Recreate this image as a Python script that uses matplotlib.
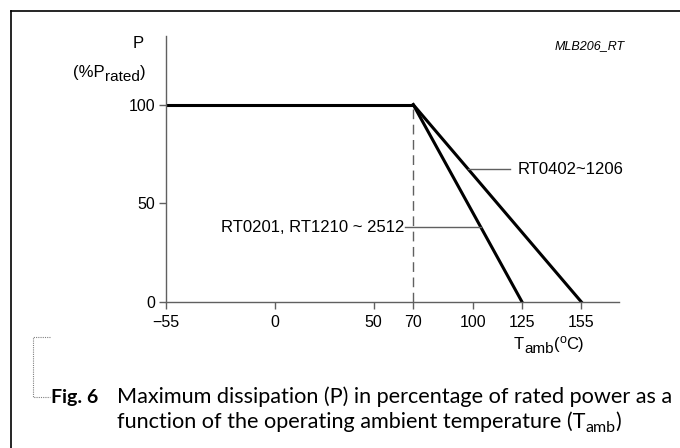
import numpy as np
import matplotlib
matplotlib.use('Agg')
import matplotlib.pyplot as plt
from matplotlib.lines import Line2D

# Datos de la curva de derating
temp_plano = [-55, 70]
pot_plano = [100, 100]
temp_a = [70, 125]     # RT0201, RT1210 ~ 2512
pot_a = [100, 0]
temp_b = [70, 155]     # RT0402~1206
pot_b = [100, 0]
xticks = [-55, 0, 50, 70, 100, 125, 155]
yticks = [0, 50, 100]
label_a = 'RT0201, RT1210 ~ 2512'
label_b = 'RT0402~1206'

plt.rcParams['font.family'] = ['Liberation Sans', 'DejaVu Sans']

W, H = 680, 448
fig = plt.figure(figsize=(6.8, 4.48), dpi=100)
ax = fig.add_axes([166 / W, 1 - 302 / H, (619 - 166) / W, (302 - 36) / H])
renderer = fig.canvas.get_renderer()


def texto_compuesto(x_px, y_px, piezas, family='Liberation Sans'):
    # piezas: (texto, tamaño, desplazamiento vertical en px, peso)
    x = x_px
    for s, size, dy, peso in piezas:
        t = fig.text(x / W, 1 - (y_px + dy) / H, s, fontsize=size, family=family,
                     fontweight=peso, ha='left', va='baseline')
        x = t.get_window_extent(renderer).x1
    return x


gris = '#606060'
ax.plot(temp_plano, pot_plano, color='black', lw=2.2, solid_capstyle='butt')
ax.plot(temp_a, pot_a, color='black', lw=2.2)
ax.plot(temp_b, pot_b, color='black', lw=2.2)
ax.plot([70, 70], [0, 100], color=gris, lw=1, dashes=(7, 4))

ax.set_xlim(-55, 174)
ax.set_ylim(0, 134.8)
ax.set_xticks(xticks)
ax.set_xticklabels([str(t).replace('-', '\u2212') for t in xticks])
ax.set_yticks(yticks)
for lado in ['top', 'right']:
    ax.spines[lado].set_visible(False)
for lado in ['left', 'bottom']:
    ax.spines[lado].set_color(gris)
    ax.spines[lado].set_linewidth(1)
ax.tick_params(axis='both', colors=gris, length=5, width=1, labelcolor='black', labelsize=11.5)
ax.tick_params(axis='x', pad=4)
ax.tick_params(axis='y', pad=3)

# Líneas guía de las etiquetas
ya = 38.0
xa = np.interp(ya, pot_a[::-1], temp_a[::-1])
ax.plot([66, xa], [ya, ya], color=gris, lw=1)
ax.text(65.5, ya, label_a, fontsize=12, ha='right', va='center')

yb = 67.4
xb = np.interp(yb, pot_b[::-1], temp_b[::-1])
ax.plot([xb, 119], [yb, yb], color=gris, lw=1)
ax.text(123, yb, label_b, fontsize=12, ha='left', va='center')

# Etiquetas de ejes
fig.text(138 / W, 1 - 48 / H, 'P', fontsize=12, ha='center', va='baseline')
texto_compuesto(73, 77, [('(%P', 12, 0, 'normal'), ('rated', 11, 4, 'normal'), (')', 12, 0, 'normal')])
texto_compuesto(514, 349, [('T', 12, 0, 'normal'), ('amb', 11, 4, 'normal'), ('(', 12, 0, 'normal'),
                           ('o', 9, -6, 'normal'), ('C)', 12, 0, 'normal')])
fig.text(590 / W, 1 - 46 / H, 'MLB206_RT', fontsize=9, style='italic', ha='center', va='center')

# Marco exterior
fig.add_artist(Line2D([10.5 / W, 1], [1 - 11 / H, 1 - 11 / H], color='black', lw=1.2))
fig.add_artist(Line2D([10.5 / W, 10.5 / W], [1 - 11 / H, 0], color='black', lw=1.2))

# Corchete punteado
bx = [50 / W, 33 / W, 33 / W, 50 / W]
by = [1 - 337 / H, 1 - 337 / H, 1 - 397 / H, 1 - 397 / H]
fig.add_artist(Line2D(bx, by, color='#808080', lw=0.8, linestyle=(0, (1, 1))))

# Pie de figura
fc = 'Lato'
texto_compuesto(51, 403, [('Fig. 6', 14, 0, 'bold')], family=fc)
texto_compuesto(117, 403, [('Maximum dissipation (P) in percentage of rated power as a', 15.6, 0, 'normal')],
                family=fc)
texto_compuesto(117, 428, [('function of the operating ambient temperature (T', 15.6, 0, 'normal'),
                           ('amb', 11.5, 4, 'normal'), (')', 15.6, 0, 'normal')], family=fc)

fig.savefig('out.png', dpi=100)
